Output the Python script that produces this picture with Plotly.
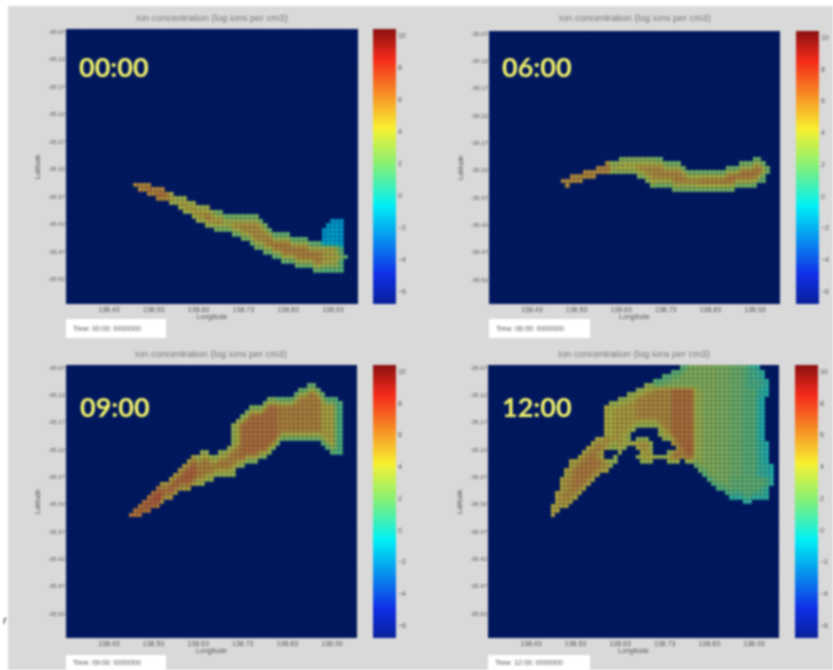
import numpy as np
import plotly.graph_objects as go

# ---- shared axes / scale values ----
lon_range = [138.334, 138.986]
lat_range = [-35.565, -35.065]
lon_ticks = [138.43, 138.53, 138.63, 138.73, 138.83, 138.93]
lat_ticks = [-35.07, -35.12, -35.17, -35.22, -35.27, -35.32, -35.37, -35.42, -35.47, -35.52]
log_min, log_max = -6.8, 10.4
log_ticks = [10, 8, 6, 4, 2, 0, -2, -4, -6]
panel_times = ["00:00", "06:00", "09:00", "12:00"]
stamp_labels = ["Time: 00:00: 0000000", "Time: 06:00: 0000000", "Time: 09:00: 0000000", "Time: 12:00: 0000000"]
title_text = "Ion concentration (log ions per cm3)"

# ---- plume outlines (longitude, latitude) ----
p00_lon = [138.483,138.520,138.558,138.595,138.632,138.669,138.707,138.766,138.781,138.818,138.856,138.893,138.911,138.911,138.930,138.946,138.949,138.956,138.949,138.915,138.856,138.818,138.766,138.721,138.669,138.632,138.595,138.558,138.520,138.483]
p00_lat = [-35.344,-35.349,-35.362,-35.375,-35.387,-35.399,-35.406,-35.409,-35.432,-35.438,-35.447,-35.453,-35.458,-35.424,-35.412,-35.412,-35.452,-35.479,-35.500,-35.504,-35.494,-35.485,-35.464,-35.439,-35.426,-35.415,-35.391,-35.376,-35.361,-35.347]
p06_lon = [138.497,138.530,138.568,138.598,138.628,138.643,138.665,138.687,138.702,138.755,138.777,138.814,138.852,138.889,138.926,138.941,138.953,138.956,138.949,138.896,138.852,138.814,138.762,138.717,138.687,138.687,138.643,138.598,138.568,138.530,138.501]
p06_lat = [-35.339,-35.332,-35.320,-35.307,-35.301,-35.295,-35.301,-35.297,-35.299,-35.308,-35.320,-35.323,-35.323,-35.311,-35.302,-35.296,-35.308,-35.323,-35.342,-35.351,-35.354,-35.360,-35.354,-35.348,-35.342,-35.329,-35.325,-35.323,-35.329,-35.340,-35.346]
p09_lon = [138.480,138.506,138.536,138.573,138.603,138.633,138.671,138.701,138.708,138.704,138.723,138.745,138.775,138.790,138.828,138.858,138.888,138.917,138.947,138.949,138.949,138.925,138.895,138.858,138.820,138.790,138.753,138.723,138.708,138.671,138.633,138.588,138.543,138.499]
p09_lat = [-35.343,-35.318,-35.294,-35.269,-35.248,-35.227,-35.230,-35.221,-35.208,-35.184,-35.160,-35.144,-35.141,-35.129,-35.129,-35.114,-35.102,-35.123,-35.129,-35.178,-35.224,-35.224,-35.199,-35.199,-35.202,-35.227,-35.242,-35.248,-35.263,-35.269,-35.282,-35.294,-35.318,-35.336]
p12_lon = [138.476,138.495,138.517,138.547,138.577,138.595,138.595,138.629,138.674,138.719,138.778,138.928,138.950,138.958,138.950,138.950,138.961,138.969,138.958,138.913,138.868,138.831,138.793,138.771,138.741,138.726,138.704,138.674,138.651,138.629,138.614,138.584,138.539,138.495]
p12_lat = [-35.340,-35.288,-35.245,-35.227,-35.202,-35.202,-35.147,-35.126,-35.111,-35.092,-35.065,-35.068,-35.077,-35.099,-35.141,-35.190,-35.233,-35.275,-35.306,-35.312,-35.300,-35.275,-35.245,-35.236,-35.242,-35.230,-35.239,-35.239,-35.214,-35.224,-35.248,-35.263,-35.300,-35.330]

# ---- gaps in the 12:00 plume ----
p12_gap_a_lon = [138.595,138.622,138.614,138.595]
p12_gap_a_lat = [-35.218,-35.224,-35.239,-35.236]
p12_gap_b_lon = [138.644,138.674,138.704,138.722,138.756,138.734,138.713,138.704,138.708,138.681,138.659]
p12_gap_b_lat = [-35.199,-35.179,-35.175,-35.196,-35.218,-35.225,-35.230,-35.224,-35.208,-35.195,-35.201]
p12_gap_c_lon = [138.638,138.659,138.670,138.678,138.648]
p12_gap_c_lat = [-35.213,-35.210,-35.224,-35.230,-35.227]

# ---- log concentration in longitude bands: upper band edge, core value, rim value ----
p00_band_edge = [138.56,138.66,138.78,138.90,139.0]
p00_core = [7.0,6.0,5.2,5.6,4.6]
p00_rim = [5.5,3.6,2.4,2.0,1.6]
p06_band_edge = [138.60,138.70,138.80,138.92,139.0]
p06_core = [6.8,5.2,5.4,5.8,5.6]
p06_rim = [5.4,3.0,2.4,2.4,2.2]
p09_band_edge = [138.54,138.62,138.72,138.80,138.90,138.93,139.0]
p09_core = [7.4,6.6,5.6,6.2,5.6,4.6,2.8]
p09_rim = [6.0,4.8,3.4,2.8,2.2,1.8,1.4]
p12_band_edge = [138.52,138.60,138.66,138.74,138.79,138.81,138.84,138.87,138.90,138.93,139.0]
p12_core = [5.4,5.8,4.8,5.4,6.2,3.6,3.0,2.8,2.4,1.8,1.0]
p12_rim = [4.6,4.4,3.4,3.4,3.4,2.2,1.6,1.4,1.0,0.7,0.3]

# ---- local areas with their own level ----
p00_bump_lon = [138.905,138.952,138.952,138.905]
p00_bump_lat = [-35.405,-35.405,-35.456,-35.456]
p12_top_lon = [138.91,138.97,138.97,138.91]
p12_top_lat = [-35.06,-35.06,-35.11,-35.11]
p12_low_lon = [138.87,138.98,138.98,138.87]
p12_low_lat = [-35.270,-35.270,-35.32,-35.32]
p12_isle_lon = [138.645,138.695,138.695,138.645]
p12_isle_lat = [-35.205,-35.205,-35.226,-35.226]
p12_spot_lon = [138.745,138.79,138.79,138.745]
p12_spot_lat = [-35.205,-35.205,-35.24,-35.24]
p12_crest_lon = [138.70,138.81,138.81,138.70]
p12_crest_lat = [-35.06,-35.06,-35.105,-35.105]

panels = [
    dict(outline=(p00_lon, p00_lat), gaps=[], edge=p00_band_edge, core=p00_core, rim=p00_rim,
         patches=[(p00_bump_lon, p00_bump_lat, -0.9, -1.5)]),
    dict(outline=(p06_lon, p06_lat), gaps=[], edge=p06_band_edge, core=p06_core, rim=p06_rim, patches=[]),
    dict(outline=(p09_lon, p09_lat), gaps=[], edge=p09_band_edge, core=p09_core, rim=p09_rim, patches=[]),
    dict(outline=(p12_lon, p12_lat),
         gaps=[(p12_gap_a_lon, p12_gap_a_lat), (p12_gap_b_lon, p12_gap_b_lat), (p12_gap_c_lon, p12_gap_c_lat)],
         edge=p12_band_edge, core=p12_core, rim=p12_rim,
         patches=[(p12_top_lon, p12_top_lat, 1.4, 0.6), (p12_low_lon, p12_low_lat, 2.0, 0.6),
                  (p12_crest_lon, p12_crest_lat, 3.0, 1.8),
                  (p12_isle_lon, p12_isle_lat, 6.0, 4.0), (p12_spot_lon, p12_spot_lat, 6.4, 5.0)]),
]

# ---- grid cells of the model ----
grid_lon = np.arange(138.339, 138.986, 0.01)
grid_lat = np.arange(-35.069, -35.565, -0.0082)
LON, LAT = np.meshgrid(grid_lon, grid_lat)

def inside(px, py, dx=0.0, dy=0.0):
    px, py = np.asarray(px), np.asarray(py)
    X, Y = LON + dx, LAT + dy
    res = np.zeros(LON.shape, bool)
    n = len(px)
    for i in range(n):
        j = (i - 1) % n
        crossing = (py[i] > Y) != (py[j] > Y)
        with np.errstate(divide="ignore", invalid="ignore"):
            xint = (px[j] - px[i]) * (Y - py[i]) / (py[j] - py[i]) + px[i]
        res ^= crossing & (X < xint)
    return res

def touched(px, py):
    # a cell belongs to the plume as soon as the outline reaches part of it
    res = inside(px, py)
    for dy in (-0.0041, 0.0041):
        res |= inside(px, py, 0.0, dy)
    for dx in (-0.005, 0.005):
        res |= inside(px, py, dx, 0.0)
    return res

def neighbours_all(m):
    p = np.pad(m, 1, mode="edge")
    return p[:-2, 1:-1] & p[2:, 1:-1] & p[1:-1, :-2] & p[1:-1, 2:]

def build(panel):
    mask = touched(*panel["outline"])
    for g in panel["gaps"]:
        mask &= ~inside(*g)
    band = np.searchsorted(panel["edge"], LON).clip(0, len(panel["edge"]) - 1)
    core = np.array(panel["core"])[band]
    rim = np.array(panel["rim"])[band]
    for lo, la, c, r in panel["patches"]:
        pm = inside(lo, la)
        core[pm] = c
        rim[pm] = r
    d1 = mask & neighbours_all(mask)
    d2 = d1 & neighbours_all(d1)
    z = np.where(mask, rim, np.nan)
    z = np.where(d1, (rim + core) / 2, z)
    z = np.where(d2, core, z)
    return z

# ---- layout in the 833x670 picture ----
W, H = 833, 670
boxes = [(66, 358, 29, 304), (489, 780, 31, 304), (66, 357, 365, 638), (488, 779, 365, 638)]
bars = [(373, 29, 304), (796, 31, 304), (373, 365, 638), (795, 365, 638)]
stamps = [(66, 166, 319, 338), (489, 590, 319, 338), (66, 166, 655, 670), (488, 590, 655, 670)]
big_xy = [(114, 67), (537, 67), (115, 406), (537, 406)]
title_y = [18, 18, 353, 353]

jet = [[0, "#08219a"], [0.11, "#1030e8"], [0.36, "#00f0f5"], [0.5, "#80f07a"],
       [0.64, "#f8f030"], [0.89, "#f52a1a"], [1, "#8a1010"]]

# grid line path of the cell boundaries
cell_x = np.append(grid_lon - 0.005, grid_lon[-1] + 0.005)
cell_y = np.append(grid_lat + 0.0041, grid_lat[-1] - 0.0041)
grid_path = "".join(f"M{x:.3f},{lat_range[0]} L{x:.3f},{lat_range[1]} " for x in cell_x)
grid_path += "".join(f"M{lon_range[0]},{y:.4f} L{lon_range[1]},{y:.4f} " for y in cell_y)

fig = go.Figure()
layout = dict(width=W, height=H, autosize=False, margin=dict(l=0, r=0, t=0, b=0),
              paper_bgcolor="#d9d9d9", plot_bgcolor="#021a62", showlegend=False,
              font=dict(family="Liberation Sans", color="#666666"))
shapes = [dict(type="rect", xref="paper", yref="paper", x0=0, x1=8 / W, y0=0, y1=1, fillcolor="#ffffff", line_width=0, layer="above"),
          dict(type="rect", xref="paper", yref="paper", x0=0, x1=1, y0=1 - 6 / H, y1=1, fillcolor="#ffffff", line_width=0, layer="above")]
annotations = []

for k, panel in enumerate(panels):
    xa = "x" if k == 0 else f"x{k+1}"
    ya = "y" if k == 0 else f"y{k+1}"
    x0, x1, y0, y1 = boxes[k]
    layout["xaxis" if k == 0 else f"xaxis{k+1}"] = dict(
        domain=[x0 / W, x1 / W], range=lon_range, anchor=ya, showgrid=False, zeroline=False,
        tickvals=lon_ticks, ticktext=[f"{v:.2f}" for v in lon_ticks], ticklen=0,
        tickfont=dict(size=7, color="#555555"), title=dict(text="Longitude", font=dict(size=7, color="#555555"), standoff=1))
    layout["yaxis" if k == 0 else f"yaxis{k+1}"] = dict(
        domain=[1 - y1 / H, 1 - y0 / H], range=lat_range, anchor=xa, showgrid=False, zeroline=False,
        tickvals=lat_ticks, ticktext=[f"{v:.2f}" for v in lat_ticks], ticklen=0,
        tickfont=dict(size=6, color="#555555"), title=dict(text="Latitude", font=dict(size=7, color="#555555"), standoff=6))
    bx, by0, by1 = bars[k]
    fig.add_trace(go.Heatmap(
        x=grid_lon, y=grid_lat, z=build(panel), xaxis=xa, yaxis=ya, opacity=0.72, zsmooth="best", connectgaps=False,
        colorscale=jet, zmin=log_min, zmax=log_max, hoverinfo="skip",
        colorbar=dict(x=bx / W, xanchor="left", xref="paper", y=1 - by1 / H, yanchor="bottom", yref="paper",
                      len=(by1 - by0) / H, lenmode="fraction", thickness=23, thicknessmode="pixels",
                      outlinewidth=0, tickvals=log_ticks, ticks="", ticklabelposition="outside",
                      tickfont=dict(size=7, color="#555555"), xpad=0, ypad=0)))
    shapes.append(dict(type="path", xref=xa, yref=ya, path=grid_path, layer="above",
                       line=dict(color="rgba(0,15,70,0.35)", width=1)))
    sx0, sx1, sy0, sy1 = stamps[k]
    shapes.append(dict(type="rect", xref="paper", yref="paper", x0=sx0 / W, x1=sx1 / W, y0=1 - sy1 / H, y1=1 - sy0 / H,
                       fillcolor="#ffffff", line_width=0, layer="above"))
    annotations.append(dict(xref="paper", yref="paper", x=(sx0 + 5) / W, y=1 - (sy0 + sy1) / 2 / H, xanchor="left",
                            yanchor="middle", text=stamp_labels[k], showarrow=False, font=dict(size=7, color="#555555")))
    annotations.append(dict(xref="paper", yref="paper", x=(x0 + x1) / 2 / W, y=1 - title_y[k] / H, xanchor="center",
                            yanchor="middle", text=title_text, showarrow=False, font=dict(size=9.5, color="#777777")))
    annotations.append(dict(xref="paper", yref="paper", x=big_xy[k][0] / W, y=1 - big_xy[k][1] / H, xanchor="center",
                            yanchor="middle", text="<b>" + panel_times[k] + "</b>", showarrow=False,
                            font=dict(family="Lato", size=27, color="#f5f56a")))

annotations.append(dict(xref="paper", yref="paper", x=5 / W, y=1 - 620 / H, xanchor="center", yanchor="middle",
                        text="<i>r</i>", showarrow=False, font=dict(size=11, color="#222222")))
layout["shapes"] = shapes
layout["annotations"] = annotations
fig.update_layout(**layout)

post = ("document.body.style.margin='0';"
        "document.getElementById('{plot_id}').style.filter='blur(0.9px)';")
fig.write_html("out.html", post_script=post, config=dict(displayModeBar=False))
